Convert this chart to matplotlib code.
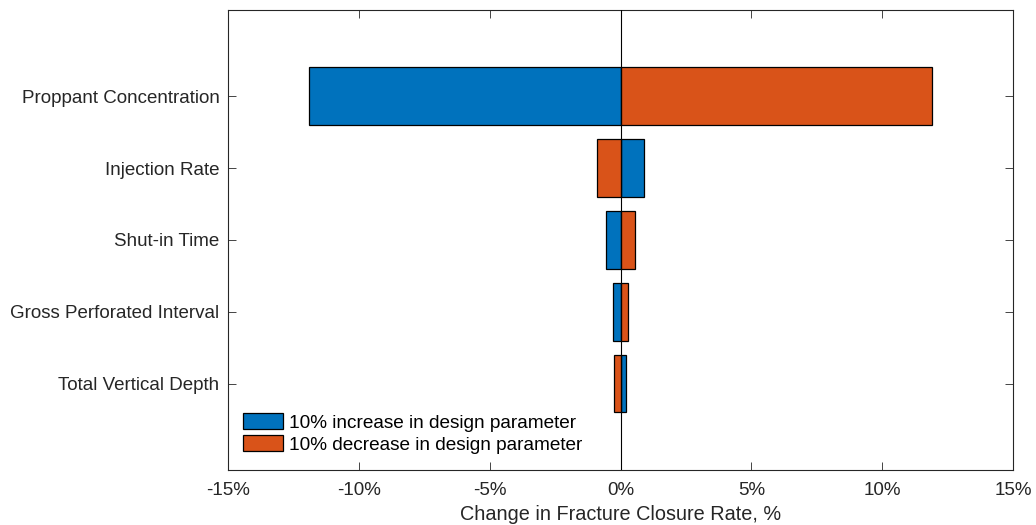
import matplotlib.pyplot as plt
from matplotlib.ticker import FuncFormatter

plt.rcParams['font.family'] = ['Liberation Sans', 'DejaVu Sans']

params = ['Proppant Concentration', 'Injection Rate', 'Shut-in Time',
          'Gross Perforated Interval', 'Total Vertical Depth']
increase = [-11.9, 0.89, -0.55, -0.28, 0.22]
decrease = [11.9, -0.90, 0.54, 0.27, -0.24]

blue = '#0072BD'
orange = '#D95319'
axcol = '#262626'

fig = plt.figure(figsize=(10.36, 5.25), dpi=100)
ax = fig.add_axes([0.220, 0.105, 0.758, 0.876])

ypos = list(range(1, len(params) + 1))
ax.barh(ypos, increase, height=0.8, color=blue, edgecolor='black', linewidth=0.9,
        label='10% increase in design parameter', zorder=2)
ax.barh(ypos, decrease, height=0.8, color=orange, edgecolor='black', linewidth=0.9,
        label='10% decrease in design parameter', zorder=2)
ax.axvline(0, color='black', linewidth=0.8, zorder=3)

ax.set_xlim(-15, 15)
ax.set_ylim(6.2, -0.2)
ax.set_yticks(ypos)
ax.set_yticklabels(params)
ax.set_xticks(range(-15, 16, 5))
ax.xaxis.set_major_formatter(FuncFormatter(lambda v, p: f'{v:.0f}%'))
ax.set_xlabel('Change in Fracture Closure Rate, %', fontsize=14.3, color=axcol, labelpad=4)

ax.tick_params(axis='both', direction='in', length=6, width=0.6, colors=axcol,
               labelsize=13.5, top=True, right=True)
ax.tick_params(axis='x', pad=9)
ax.tick_params(axis='y', pad=6)
for s in ax.spines.values():
    s.set_color(axcol)
    s.set_linewidth(0.8)

ax.legend(loc='lower left', bbox_to_anchor=(0.019, 0.035), frameon=False,
          fontsize=13.7, handlelength=2.1, handleheight=0.89, handletextpad=0.35,
          labelspacing=0.2, borderpad=0, borderaxespad=0)

fig.savefig('out.png', dpi=100)
